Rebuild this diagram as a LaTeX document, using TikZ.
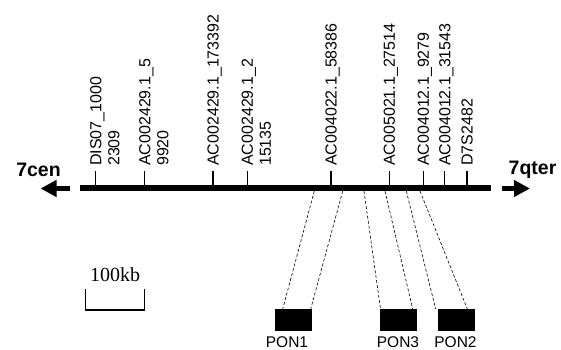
\documentclass[tikz,border=0pt]{standalone}
\usepackage{fontspec}
\setmainfont{Liberation Sans}
\newfontfamily\scalefont{Liberation Serif}
\usetikzlibrary{arrows.meta}
\begin{document}
\begin{tikzpicture}[x=1pt,y=-1pt,
  tickline/.style={line width=1.3pt},
  mlabel/.style={rotate=90,anchor=north west,inner sep=0pt,align=left,font=\fontsize{16}{18}\selectfont},
  chrom/.style={line width=5.5pt},
  bigarrow/.style={line width=5pt,-{Triangle[length=16pt,width=16pt]}},
  endlabel/.style={font=\fontsize{19.5}{22}\selectfont\bfseries,anchor=base,inner sep=0pt},
  gene/.style={fill=black,draw=none,minimum width=37pt,minimum height=22pt,inner sep=0pt,anchor=north west},
  genelabel/.style={font=\fontsize{15.5}{18}\selectfont,anchor=base,inner sep=0pt},
  link/.style={line width=0.6pt,dash pattern=on 3pt off 2pt}]
\useasboundingbox (0,0) rectangle (561,349);

% chromosome line
\coordinate (L) at (80,188);
\coordinate (R) at (491,188);
\draw[chrom] (L) -- (R);

% end arrows
\coordinate (cs) at (70,188.5);
\coordinate (ct) at (40.5,188.5);
\coordinate (qs) at (501.5,188.5);
\coordinate (qt) at (530,188.5);
\draw[bigarrow] (cs) -- (ct);
\draw[bigarrow] (qs) -- (qt);
\node[endlabel] (cen) at (38.5,176) {7cen};
\node[endlabel] (qter) at (532.5,174) {7qter};

% ticks
\foreach \i/\x in {1/95.7,2/144.7,3/213,4/247.3,5/331,6/389.3,7/423.3,8/444.7,9/467}{
  \coordinate (t\i) at (\x,188);
  \coordinate (u\i) at (\x,171);
  \draw[tickline] (t\i) -- (u\i);
}

% marker labels
\node[mlabel] (m1) at (90,166) {DIS07\_1000\\2309};
\node[mlabel] (m2) at (139,166) {AC002429.1\_5\\9920};
\node[mlabel] (m3) at (207.3,166) {AC002429.1\_173392};
\node[mlabel] (m4) at (241.6,166) {AC002429.1\_2\\15135};
\node[mlabel] (m5) at (325.3,166) {AC004022.1\_58386};
\node[mlabel] (m6) at (383.6,166) {AC005021.1\_27514};
\node[mlabel] (m7) at (417.6,166) {AC004012.1\_9279};
\node[mlabel] (m8) at (439,166) {AC004012.1\_31543};
\node[mlabel] (m9) at (461.3,166) {D7S2482};

% scale bar
\coordinate (sa) at (85.7,289);
\coordinate (sb) at (85.7,310);
\coordinate (sc) at (144.7,310);
\coordinate (sd) at (144.7,289);
\draw[line width=1.5pt] (sa) -- (sb) -- (sc) -- (sd);
\node[font=\scalefont\fontsize{20}{24}\selectfont,anchor=base,inner sep=0pt] (kb) at (115,281) {100kb};

% genes
\node[gene] (g1) at (275,309) {};
\node[gene] (g3) at (380,309) {};
\node[gene] (g2) at (437.7,309) {};
\node[genelabel] (l1) at (287,347) {PON1};
\node[genelabel] (l3) at (398,347) {PON3};
\node[genelabel] (l2) at (455.5,347) {PON2};

% links
\foreach \i/\xa/\xb in {1/314.3/282.7,2/342.7/310.7,3/364/380.5,4/385/412.7,5/406.3/435.7,6/420/467.3}{
  \coordinate (a\i) at (\xa,191);
  \coordinate (b\i) at (\xb,309);
  \draw[link] (a\i) -- (b\i);
}
\end{tikzpicture}
\end{document}
